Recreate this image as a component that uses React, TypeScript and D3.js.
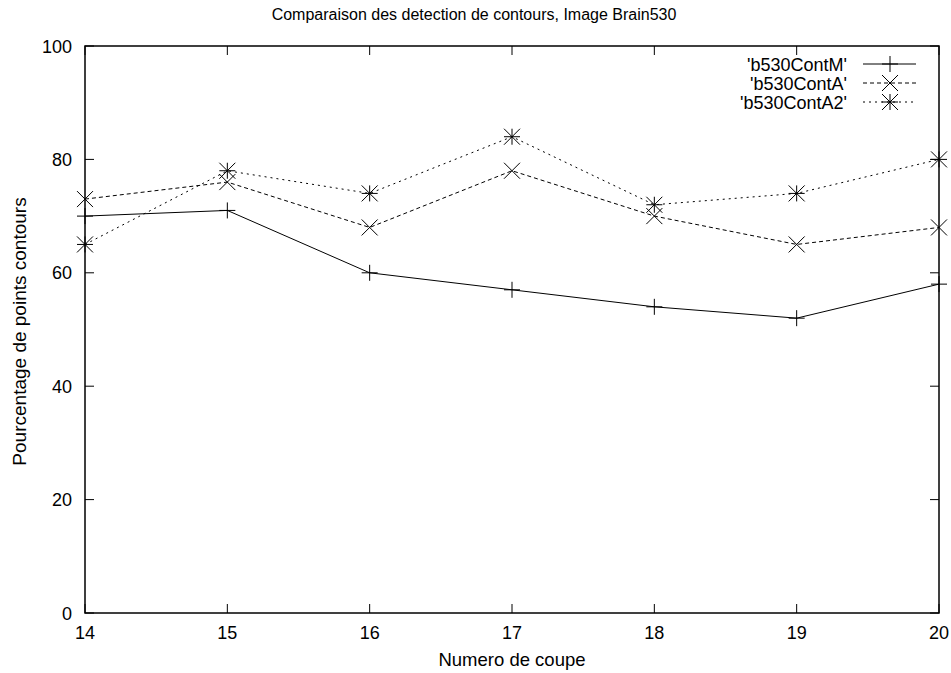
import React from "react";
import * as d3 from "d3";

const coupes = [14, 15, 16, 17, 18, 19, 20];
const contM = [70, 71, 60, 57, 54, 52, 58];
const contA = [73, 76, 68, 78, 70, 65, 68];
const contA2 = [65, 78, 74, 84, 72, 74, 80];
const yTicks = [0, 20, 40, 60, 80, 100];
const seriesNames = ["'b530ContM'", "'b530ContA'", "'b530ContA2'"];

const W = 951, H = 673;
const L = 85, R = 939, T = 46, B = 613;
const FONT = "'Liberation Sans', Arial, Helvetica, sans-serif";

function Marker({ kind, x, y }: { kind: number; x: number; y: number }) {
  const s = 8;
  const plus = `M${x - s},${y}H${x + s}M${x},${y - s}V${y + s}`;
  const cross = `M${x - s},${y - s}L${x + s},${y + s}M${x - s},${y + s}L${x + s},${y - s}`;
  const d = kind === 0 ? plus : kind === 1 ? cross : plus + cross;
  return <path d={d} stroke="#000" strokeWidth={1} fill="none" />;
}

export default function App() {
  const x = d3.scaleLinear().domain([14, 20]).range([L, R]);
  const y = d3.scaleLinear().domain([0, 100]).range([B, T]);
  const series = [contM, contA, contA2];
  const dashes = ["none", "4,3", "2,4"];
  const line = d3
    .line<number>()
    .x((_, i) => x(coupes[i]))
    .y((v) => y(v));
  return (
    <svg width={W} height={H} style={{ position: "absolute", left: 0, top: 0 }} fontFamily={FONT}>
      <rect width={W} height={H} fill="#fff" />
      <text x={474} y={20} textAnchor="middle" fontSize={16}>
        Comparaison des detection de contours, Image Brain530
      </text>
      {yTicks.map((t) => (
        <g key={"y" + t}>
          <line x1={L} x2={L + 9} y1={y(t)} y2={y(t)} stroke="#000" />
          <line x1={R} x2={R - 9} y1={y(t)} y2={y(t)} stroke="#000" />
          <text x={72} y={y(t) + 6.5} textAnchor="end" fontSize={18}>
            {t}
          </text>
        </g>
      ))}
      {coupes.map((c) => (
        <g key={"x" + c}>
          <line x1={x(c)} x2={x(c)} y1={B} y2={B - 9} stroke="#000" />
          <line x1={x(c)} x2={x(c)} y1={T} y2={T + 9} stroke="#000" />
          <text x={x(c)} y={639} textAnchor="middle" fontSize={18}>
            {c}
          </text>
        </g>
      ))}
      <text x={512} y={666} textAnchor="middle" fontSize={18.5}>
        Numero de coupe
      </text>
      <text
        transform={`translate(26,${(T + B) / 2 + 2}) rotate(-90)`}
        textAnchor="middle"
        fontSize={19}
      >
        Pourcentage de points contours
      </text>
      {series.map((s, k) => (
        <g key={"s" + k}>
          <path d={line(s) || ""} fill="none" stroke="#000" strokeWidth={1} strokeDasharray={dashes[k]} />
          {s.map((v, i) => (
            <Marker key={i} kind={k} x={x(coupes[i])} y={y(v)} />
          ))}
        </g>
      ))}
      {seriesNames.map((n, k) => {
        const ly = 64 + k * 19;
        return (
          <g key={"l" + k}>
            <text x={847} y={ly + 6.5} textAnchor="end" fontSize={18}>
              {n}
            </text>
            <line x1={863} x2={916} y1={ly} y2={ly} stroke="#000" strokeDasharray={dashes[k]} />
            <Marker kind={k} x={890} y={ly} />
          </g>
        );
      })}
      <rect x={L} y={T} width={R - L} height={B - T} fill="none" stroke="#000" strokeWidth={1.5} />
    </svg>
  );
}
